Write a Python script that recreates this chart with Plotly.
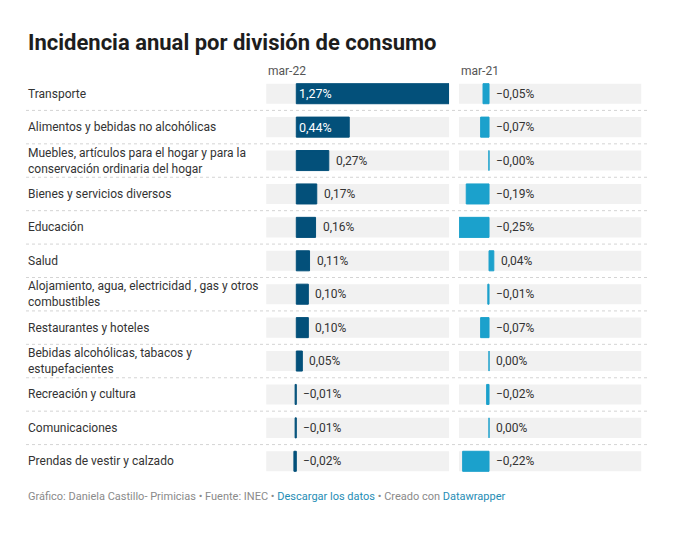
import plotly.graph_objects as go
from plotly.subplots import make_subplots

# datos
categorias = [
    "Transporte",
    "Alimentos y bebidas no alcohólicas",
    "Muebles, artículos para el hogar y para la<br>conservación ordinaria del hogar",
    "Bienes y servicios diversos",
    "Educación",
    "Salud",
    "Alojamiento, agua, electricidad , gas y otros<br>combustibles",
    "Restaurantes y hoteles",
    "Bebidas alcohólicas, tabacos y<br>estupefacientes",
    "Recreación y cultura",
    "Comunicaciones",
    "Prendas de vestir y calzado",
]
mar22 = [1.27, 0.44, 0.27, 0.17, 0.16, 0.11, 0.10, 0.10, 0.05, -0.01, -0.01, -0.02]
mar21 = [-0.05, -0.07, -0.001, -0.19, -0.25, 0.04, -0.01, -0.07, 0.00, -0.02, 0.00, -0.22]
columnas = ["mar-22", "mar-21"]

C22 = "#03507a"
C21 = "#1ba1cc"
FONT = "Roboto, sans-serif"

xmin = min(mar22 + mar21)
xmax = max(mar22 + mar21)
ids = list(range(len(categorias)))


def fmt(v):
    s = f"{v:.2f}".replace(".", ",").replace("-", "\u2212")
    return s + "%"


fig = make_subplots(1, 2, shared_yaxes=True, horizontal_spacing=0.016)

for col, (vals, clr) in enumerate([(mar22, C22), (mar21, C21)], start=1):
    xr = "x" if col == 1 else "x2"
    # fondo gris
    for i in ids:
        fig.add_shape(type="rect", xref=f"{xr} domain", yref="y", x0=0, x1=1,
                      y0=i - 0.3, y1=i + 0.3, fillcolor="#f1f1f1", line_width=0,
                      layer="below")
    fig.add_trace(go.Bar(x=vals, y=ids, orientation="h", width=0.6,
                         marker=dict(color=clr, line=dict(color=clr, width=1)),
                         hoverinfo="skip", showlegend=False), 1, col)
    for i, v in zip(ids, vals):
        inside = v >= 0.4
        fig.add_annotation(x=0 if inside else max(v, 0), y=i, xref=xr, yref="y",
                           text=fmt(v), showarrow=False, xanchor="left",
                           xshift=1 if inside else 5,
                           font=dict(size=12.5 if inside else 12,
                                     color="white" if inside else "#333",
                                     family=FONT))
    fig.add_annotation(x=0, y=1.0, xref=f"{xr} domain", yref="paper", yanchor="bottom",
                       yshift=-3, text=columnas[col - 1], showarrow=False, xanchor="left",
                       font=dict(size=12, color="#555", family=FONT))

# etiquetas de categoría
for i, c in zip(ids, categorias):
    fig.add_annotation(x=0, y=i, xref="paper", yref="y", text=c, showarrow=False,
                       xanchor="left", align="left",
                       font=dict(size=12, color="#333", family=FONT))

# separadores punteados
for i in ids[:-1]:
    fig.add_shape(type="line", xref="paper", yref="y", x0=0, x1=1, y0=i + 0.5, y1=i + 0.5,
                  line=dict(color="#d4d4d4", width=1, dash="dot"))

fig.add_annotation(x=0, y=1.085, xref="paper", yref="paper", xanchor="left", yanchor="middle",
                   text="<b>Incidencia anual por división de consumo</b>", showarrow=False,
                   font=dict(size=22, color="#1d1d1d", family=FONT))
fig.add_annotation(
    x=0, y=-0.045, xref="paper", yref="paper", xanchor="left", yanchor="middle",
    showarrow=False, font=dict(size=11, color="#8a8a8a", family=FONT),
    text="Gráfico: Daniela Castillo- Primicias • Fuente: INEC • "
         "<span style='color:#1f8db5'>Descargar los datos</span> • Creado con "
         "<span style='color:#1f8db5'>Datawrapper</span>")

fig.update_layout(
    width=667, height=531, plot_bgcolor="white", paper_bgcolor="white",
    margin=dict(l=18, r=25, t=69, b=61), bargap=0.4,
    font=dict(family=FONT),
)
fig.update_xaxes(range=[xmin, xmax], visible=False, fixedrange=True)
fig.update_xaxes(domain=[0.385, 0.678], row=1, col=1)
fig.update_xaxes(domain=[0.694, 0.986], row=1, col=2)
fig.update_yaxes(range=[len(categorias) - 0.5, -0.5], visible=False, fixedrange=True)

fig.write_html("out.html", config={"displayModeBar": False})
